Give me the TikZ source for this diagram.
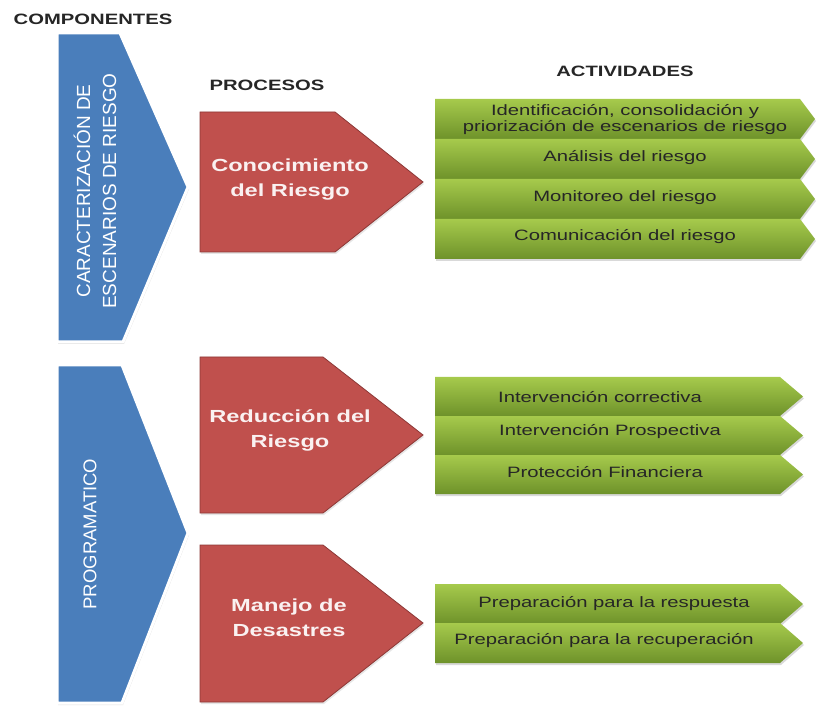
\documentclass[tikz,border=0pt]{standalone}
\usepackage{fontspec}
\setmainfont{Liberation Sans}[FakeStretch=1.35]
\newfontfamily\rotfont{Liberation Sans}
\usepackage{xcolor}
\usepackage{tikz}
\usetikzlibrary{shadows}
\definecolor{myblue}{RGB}{74, 126, 187}
\definecolor{myred}{RGB}{192, 80, 77}
\definecolor{myredline}{RGB}{140, 56, 54}
\definecolor{mygreentop}{RGB}{166, 202, 76}
\definecolor{mygreenbot}{RGB}{110, 146, 42}

\begin{document}
\begin{tikzpicture}[x=1pt, y=-1pt,
    titulo/.style={font=\fontsize{15}{18}\selectfont\bfseries, text=black!85},
    componente/.style={fill=myblue, draw=white, line width=3pt,
        drop shadow={opacity=0.25, shadow xshift=1pt, shadow yshift=-2pt}},
    proceso/.style={fill=myred, draw=myredline, line width=0.8pt,
        drop shadow={opacity=0.2, shadow xshift=1pt, shadow yshift=-2pt}},
    actividad/.style={top color=mygreentop, bottom color=mygreenbot, draw=none,
        drop shadow={opacity=0.3, shadow xshift=1pt, shadow yshift=-2pt}},
    txtcomp/.style={text=white, align=center, rotate=90,
        font=\rotfont\fontsize{19}{26}\selectfont},
    txtproc/.style={text=white!92!myred, align=center,
        font=\fontsize{17.5}{25}\selectfont\bfseries},
    txtact/.style={text=black!85, align=center,
        font=\fontsize{15}{16}\selectfont}]
    \useasboundingbox (0,0) rectangle (817,711);

    % componentes
    \draw[componente] (57,33) -- (120,33) -- (188,187) -- (123,342) -- (57,342) -- cycle;
    \draw[componente] (57,365) -- (122,365) -- (188,533) -- (122,703) -- (57,703) -- cycle;

    % procesos
    \draw[proceso] (200,112) -- (335,112) -- (423,182) -- (335,252) -- (200,252) -- cycle;
    \draw[proceso] (200,357) -- (323,357) -- (423,435) -- (323,513) -- (200,513) -- cycle;
    \draw[proceso] (200,545) -- (323,545) -- (423,623) -- (323,702) -- (200,702) -- cycle;

    % actividades
    \foreach \y in {99,139,179,219}
        \path[actividad] (435,\y) -- (800,\y) -- (815,\y+20) -- (800,\y+40) -- (435,\y+40) -- cycle;
    \foreach \y in {377,416,455}
        \path[actividad] (435,\y) -- (780,\y) -- (803,\y+19.5) -- (780,\y+39) -- (435,\y+39) -- cycle;
    \foreach \y in {584,623}
        \path[actividad] (435,\y) -- (780,\y) -- (803,\y+20) -- (780,\y+40) -- (435,\y+40) -- cycle;

    % titulos
    \node[titulo] (componentes) at (93,19) {COMPONENTES};
    \node[titulo] (procesos) at (267,85) {PROCESOS};
    \node[titulo] (actividades) at (625,71) {ACTIVIDADES};

    \node[txtcomp] (caracterizacion) at (95,191) {CARACTERIZACIÓN DE\\ESCENARIOS DE RIESGO};
    \node[txtcomp, font=\rotfont\fontsize{18.5}{26}\selectfont] (programatico) at (90,534) {PROGRAMATICO};

    \node[txtproc] (conocimiento) at (290,180) {Conocimiento\\del Riesgo};
    \node[txtproc] (reduccion) at (290,430) {Reducción del\\Riesgo};
    \node[txtproc] (manejo) at (289,618) {Manejo de\\Desastres};

    \node[txtact] (identificacion) at (625,120) {Identificación, consolidación y\\priorización de escenarios de riesgo};
    \node[txtact] (analisis) at (625,158) {Análisis del riesgo};
    \node[txtact] (monitoreo) at (625,198) {Monitoreo del riesgo};
    \node[txtact] (comunicacion) at (625,237) {Comunicación del riesgo};

    \node[txtact] (correctiva) at (600,397) {Intervención correctiva};
    \node[txtact] (prospectiva) at (610,432) {Intervención Prospectiva};
    \node[txtact] (financiera) at (605,472) {Protección Financiera};

    \node[txtact] (respuesta) at (614,604) {Preparación para la respuesta};
    \node[txtact] (recuperacion) at (604,641) {Preparación para la recuperación};
\end{tikzpicture}
\end{document}
